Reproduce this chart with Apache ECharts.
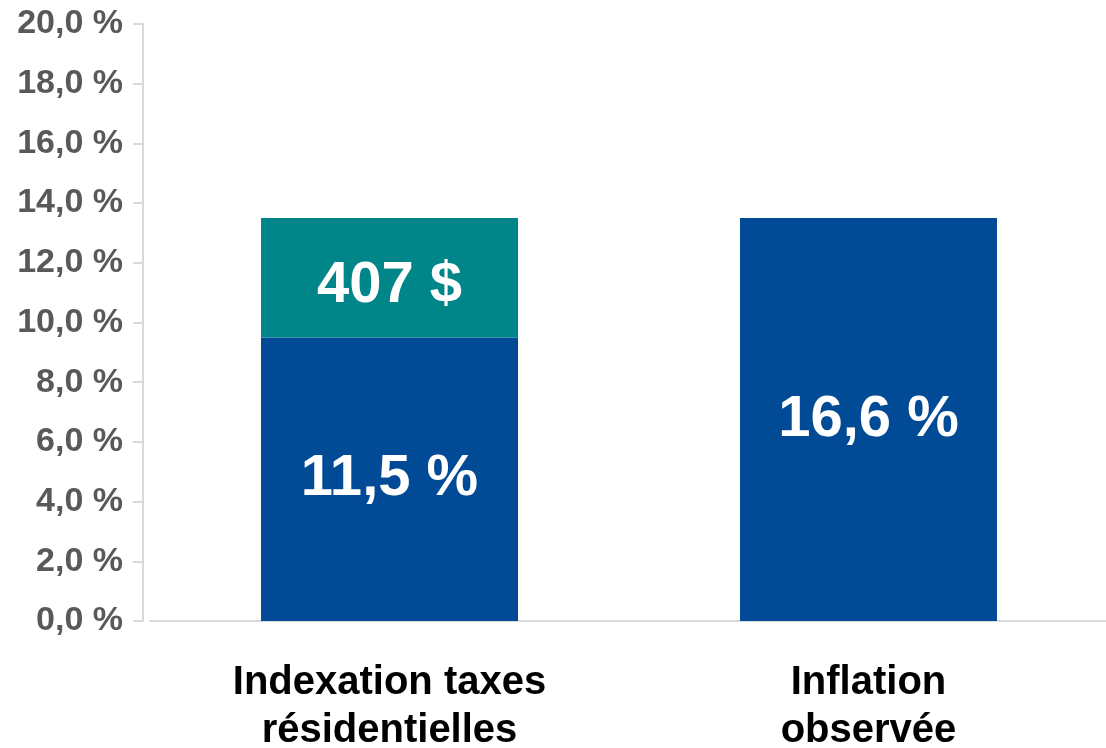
<!DOCTYPE html>
<html>
<head>
<meta charset="utf-8">
<script src="https://cdn.jsdelivr.net/npm/echarts@6/dist/echarts.min.js"></script>
<style>
  html, body { margin: 0; padding: 0; background: #fff; }
  #chart { width: 1106px; height: 748px; }
</style>
</head>
<body>
<div id="chart"></div>
<script>
// catégories et valeurs
const categories = ['Indexation taxes\nrésidentielles', 'Inflation\nobservée']
const baseValues = [9.5, 13.5]
const topValues = [4.0, null]
const baseLabels = ['11,5 %', '16,6 %']
const topLabels = ['407 $', '']
const yTickLabels = ['0,0 %', '2,0 %', '4,0 %', '6,0 %', '8,0 %', '10,0 %',
  '12,0 %', '14,0 %', '16,0 %', '18,0 %', '20,0 %']

const FONT = '"Liberation Sans", Arial, sans-serif'

const chart = echarts.init(document.getElementById('chart'))

const barLabel = (texts, dy) => ({
  show: true,
  position: 'inside',
  offset: [0, dy],
  color: '#fff',
  fontFamily: FONT,
  fontWeight: 'bold',
  fontSize: 58,
  formatter: (p) => texts[p.dataIndex]
})

chart.setOption({
  animation: false,
  grid: { left: 150, right: -2, top: 24, bottom: 127, outerBoundsMode: 'none' },
  xAxis: {
    type: 'category',
    data: categories,
    axisLine: { lineStyle: { color: '#d9d9d9', width: 2 } },
    axisTick: { show: false },
    axisLabel: {
      margin: 38,
      color: '#000',
      fontFamily: FONT,
      fontWeight: 'bold',
      fontSize: 40,
      lineHeight: 48
    }
  },
  yAxis: {
    type: 'value',
    min: 0,
    max: 20,
    interval: 2,
    offset: 7,
    splitLine: { show: false },
    axisLine: { show: true, lineStyle: { color: '#d9d9d9', width: 2 } },
    axisTick: { show: true, length: 10, lineStyle: { color: '#d9d9d9', width: 2 } },
    axisLabel: {
      margin: 20,
      color: '#595959',
      fontFamily: FONT,
      fontWeight: 'bold',
      fontSize: 34,
      formatter: (v) => yTickLabels[Math.round(v / 2)]
    }
  },
  series: [
    {
      name: 'base',
      type: 'bar',
      stack: 'total',
      barWidth: 257,
      data: baseValues,
      itemStyle: { color: '#004a96' },
      label: barLabel(baseLabels, 0)
    },
    {
      name: 'ajout',
      type: 'bar',
      stack: 'total',
      barWidth: 257,
      data: topValues,
      itemStyle: { color: '#008688' },
      label: barLabel(topLabels, 8)
    }
  ]
})
</script>
</body>
</html>
